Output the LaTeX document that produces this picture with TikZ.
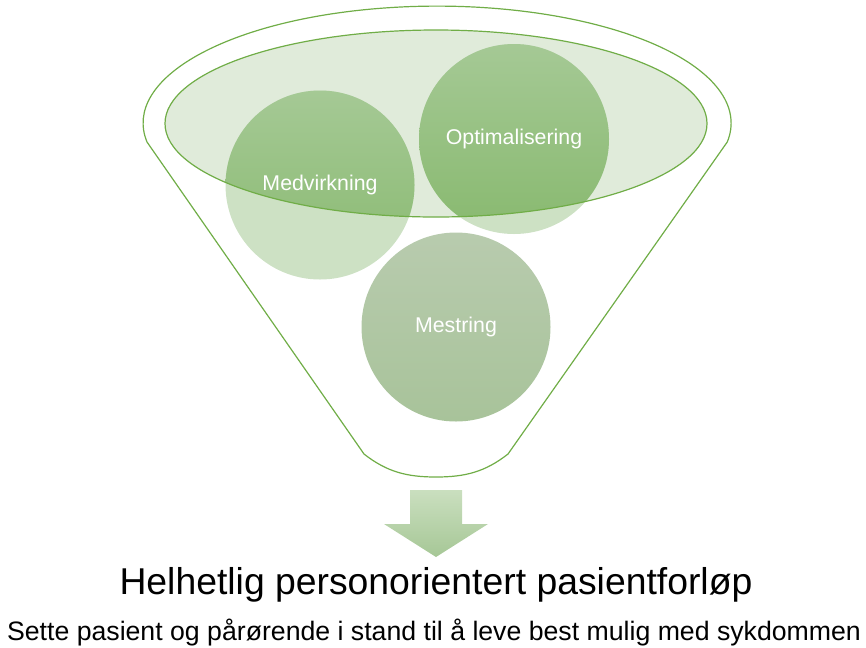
\documentclass[tikz,border=0pt]{standalone}
\usepackage{fontspec}
\setmainfont{Liberation Sans}
\usetikzlibrary{backgrounds}
\definecolor{rimline}{HTML}{70AD47}
\definecolor{rimfill}{HTML}{E0EBDA}
\definecolor{balllight}{HTML}{CDE1C4}
\definecolor{balltop}{HTML}{A5C995}
\definecolor{ballbot}{HTML}{88B96F}
\definecolor{mesttop}{HTML}{B8CBAE}
\definecolor{mestbot}{HTML}{A8C39A}
\definecolor{arrtop}{HTML}{CADFBF}
\definecolor{arrbot}{HTML}{A6C796}
\tikzset{
	bubble/.style = {circle, minimum size=141.75pt, inner sep=0pt,
		text=white, font=\fontsize{16}{19}\selectfont},% sirkel med tekst
	headline/.style = {inner sep=0pt, font=\fontsize{28}{33}\selectfont},% tittel
	subline/.style = {inner sep=0pt, font=\fontsize{20}{24}\selectfont},% undertittel
	rim/.style = {draw=rimline, line width=0.9pt}% trakt, kant
}
\begin{document}
\begin{tikzpicture}[x=0.75pt, y=0.75pt]
	\useasboundingbox (0,0) rectangle (866,-647);
	\node[bubble] (medv) at (320,-185) {Medvirkning};
	\node[bubble] (opti) at (514,-139) {Optimalisering};
	\node[bubble] (mest) at (456,-327) {Mestring};
	\node[headline] (head) at (436,-585) {Helhetlig personorientert pasientforløp};
	\node[subline] (sub) at (434,-633) {Sette pasient og pårørende i stand til å leve best mulig med sykdommen};
	\begin{scope}[on background layer]
		% trakt
		\draw[rim] (147,-142) arc[start angle=189.3, end angle=-9.3, x radius=294, y radius=117]
			-- (508,-454) .. controls (485,-472) and (465,-477) .. (436,-477)
			.. controls (407,-477) and (387,-472) .. (364,-454) -- cycle;
		\fill[rimfill] (436,-123.5) ellipse[x radius=271, y radius=93.5];
		\fill[balllight] (medv.center) circle (94.5);
		\fill[balllight] (opti.center) circle (95);
		\begin{scope}
			\clip (436,-123.5) ellipse[x radius=271, y radius=93.5];
			\shade[top color=balltop, bottom color=ballbot] (medv.center) circle (94.5);
			\shade[top color=balltop, bottom color=ballbot] (opti.center) circle (95);
		\end{scope}
		\draw[rim] (436,-123.5) ellipse[x radius=271, y radius=93.5];
		\shade[top color=mesttop, bottom color=mestbot] (mest.center) circle (94.5);
		% pil
		\shade[top color=arrtop, bottom color=arrbot] (410,-490) -- (462,-490) -- (462,-524)
			-- (488,-524) -- (436,-557) -- (384,-524) -- (410,-524) -- cycle;
	\end{scope}
\end{tikzpicture}
\end{document}
